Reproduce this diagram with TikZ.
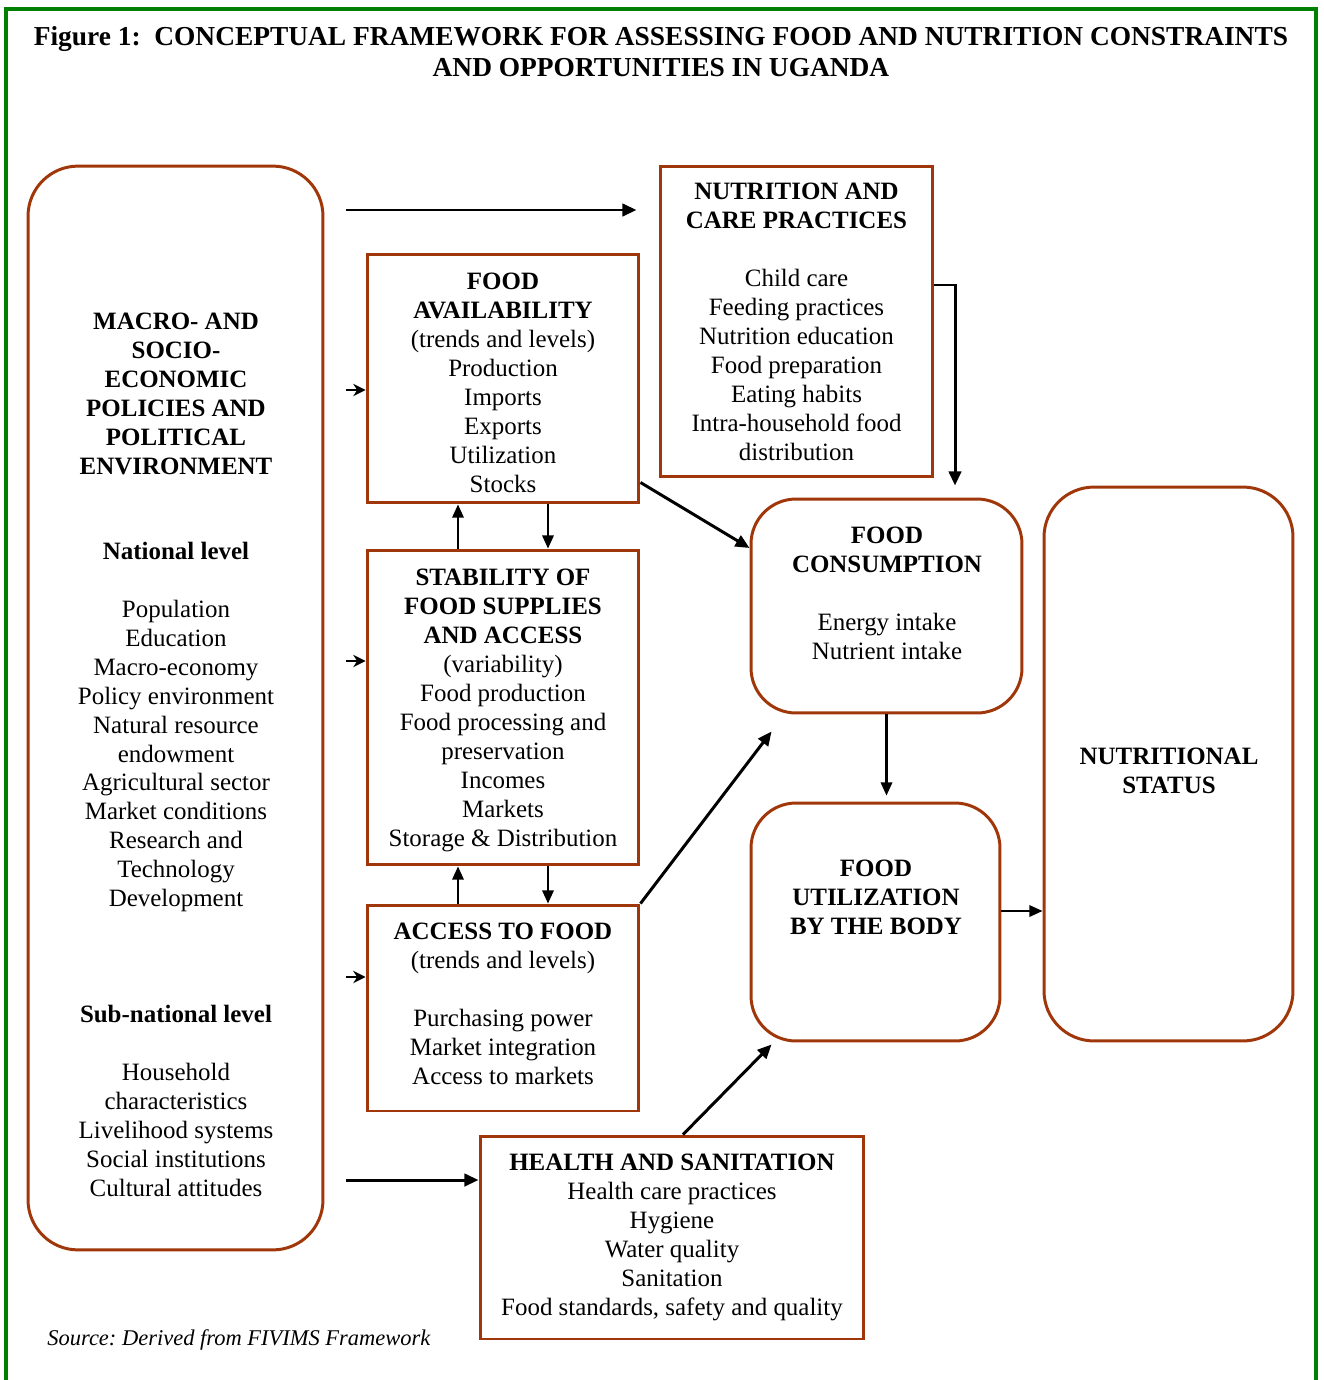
\documentclass[tikz,border=0pt]{standalone}
\usepackage{fontspec}
\setmainfont{Liberation Serif}
\usetikzlibrary{arrows.meta,positioning,calc}
\definecolor{boxbrown}{RGB}{160,55,10}
\definecolor{framegreen}{RGB}{0,128,0}
\tikzset{
  sqbox/.style={draw=boxbrown,line width=1.7pt,rectangle,align=center,inner sep=0pt,font=\fontsize{14.2}{16.5}\selectfont},
  rndbox/.style={sqbox,rounded corners=0.9cm},
  txt/.style={align=center,inner sep=0pt,font=\fontsize{14.2}{16.5}\selectfont},
  hd/.style={txt,font=\bfseries\fontsize{14.2}{16.5}\selectfont},
  ttl/.style={align=center,inner sep=0pt,font=\bfseries\fontsize{15.6}{17.6}\selectfont},
  src/.style={inner sep=0pt,font=\itshape\fontsize{12.8}{15}\selectfont},
  arr/.style={-{Triangle[length=8pt,width=7pt]},line width=1.7pt},
  thinarr/.style={-{Triangle[length=7.5pt,width=6.5pt]},line width=1.2pt},
  sarr/.style={-{Stealth[length=7pt,width=7pt]},line width=1.2pt}
}
\begin{document}
\begin{tikzpicture}[x=0.02cm,y=-0.02cm]
  \useasboundingbox (0,0) rectangle (1323,1380);
  % Frame and title
  \draw[framegreen,line width=2.3pt] (6,1380) -- (6,9) -- (1316,9) -- (1316,1380);
  \node[ttl] (title) at (661,52) {Figure 1:\ \ CONCEPTUAL FRAMEWORK FOR ASSESSING FOOD AND NUTRITION CONSTRAINTS\\AND OPPORTUNITIES IN UGANDA};

  % Policy environment
  \node[rndbox,rounded corners=1cm,minimum width=5.9cm,minimum height=21.68cm] (macro) at (175.5,708) {};
  \node[hd] (macrohd) at (176,394) {MACRO- AND\\SOCIO-\\ECONOMIC\\POLICIES AND\\POLITICAL\\ENVIRONMENT};
  \node[txt] (natl) at (176,727) {\textbf{National level}\\[16.5pt]Population\\Education\\Macro-economy\\Policy environment\\Natural resource\\endowment\\Agricultural sector\\Market conditions\\Research and\\Technology\\Development};
  \node[txt] (subnatl) at (176,1100.5) {\textbf{Sub-national level}\\[16.5pt]Household\\characteristics\\Livelihood systems\\Social institutions\\Cultural attitudes};

  % Food security boxes
  \node[sqbox,minimum width=5.44cm,minimum height=4.98cm] (avail) at (503,378.5) {\rule{0pt}{14pt}\textbf{FOOD}\\\textbf{AVAILABILITY}\\(trends and levels)\\Production\\Imports\\Exports\\Utilization\\Stocks};
  \node[sqbox,minimum width=5.44cm,minimum height=6.3cm] (stab) at (503,707.5) {\rule{0pt}{13pt}\textbf{STABILITY OF}\\\textbf{FOOD SUPPLIES}\\\textbf{AND ACCESS}\\(variability)\\Food production\\Food processing and\\preservation\\Incomes\\Markets\\Storage \& Distribution};
  \node[sqbox,minimum width=5.44cm,minimum height=4.12cm] (acc) at (503,1008) {\textbf{ACCESS TO FOOD}\\(trends and levels)\\[16.5pt]Purchasing power\\Market integration\\Access to markets\\[-12pt]\mbox{}};

  % Care, health
  \node[sqbox,minimum width=5.46cm,minimum height=6.22cm] (nutr) at (796.5,321.5) {\textbf{NUTRITION AND}\\\textbf{CARE PRACTICES}\\[16.5pt]Child care\\Feeding practices\\Nutrition education\\Food preparation\\Eating habits\\Intra-household food\\distribution};
  \node[sqbox,minimum width=7.68cm,minimum height=4.06cm] (hlth) at (672,1237.5) {\textbf{HEALTH AND SANITATION}\\Health care practices\\Hygiene\\Water quality\\Sanitation\\Food standards, safety and quality};

  % Outcomes
  \node[rndbox,minimum width=5.42cm,minimum height=4.28cm] (cons) at (886.5,606) {};
  \node[txt] (conslbl) at (887,593) {\textbf{FOOD}\\\textbf{CONSUMPTION}\\[16.5pt]Energy intake\\Nutrient intake};
  \node[rndbox,minimum width=4.98cm,minimum height=4.76cm] (util) at (875.5,922) {};
  \node[hd] (utillbl) at (876,897) {FOOD\\UTILIZATION\\BY THE BODY};
  \node[rndbox,rounded corners=1cm,minimum width=4.98cm,minimum height=11.08cm] (stat) at (1168.5,764) {};
  \node[hd] (statlbl) at (1169,771) {NUTRITIONAL\\STATUS};

  \node[src,anchor=west] (source) at (47,1340) {\frenchspacing Source: Derived from FIVIMS Framework};

  % Flows from the policy environment
  \draw[arr,shorten <=0.44cm,shorten >=0.44cm] (macro.east |- 0,210) -- (nutr.west |- 0,210);
  \foreach \t/\yy in {avail/390,stab/661,acc/977}
    \draw[sarr,shorten <=0.44cm] (macro.east |- 0,\yy) -- (\t.west |- 0,\yy);
  \draw[arr,shorten <=0.44cm] (macro.east |- 0,1180) -- (hlth.west |- 0,1180);

  % Between availability, stability and access
  \foreach \a/\b in {avail/stab,stab/acc} {
    \draw[thinarr] (\b.north -| 458,0) -- (\a.south -| 458,0);
    \draw[thinarr] (\a.south -| 548,0) -- (\b.north -| 548,0);
  }

  % Towards consumption, utilization and status
  \draw[arr] ($(avail.south east)+(0,-22)$) -- (cons.west |- 0,548);
  \draw[arr,shorten >=0.24cm] (nutr.east |- 0,285) -| (cons.north -| 955,0);
  \draw[arr] (acc.north east) -- ($(cons.south west)+(22,17)$);
  \draw[thinarr,shorten >=0.12cm] (cons.south) -- (cons.south |- util.north);
  \draw[thinarr] (util.east |- 0,911) -- (stat.west |- 0,911);
  \draw[arr] ($(hlth.north)+(11,0)$) -- ($(util.south west)+(22,2)$);
\end{tikzpicture}
\end{document}
